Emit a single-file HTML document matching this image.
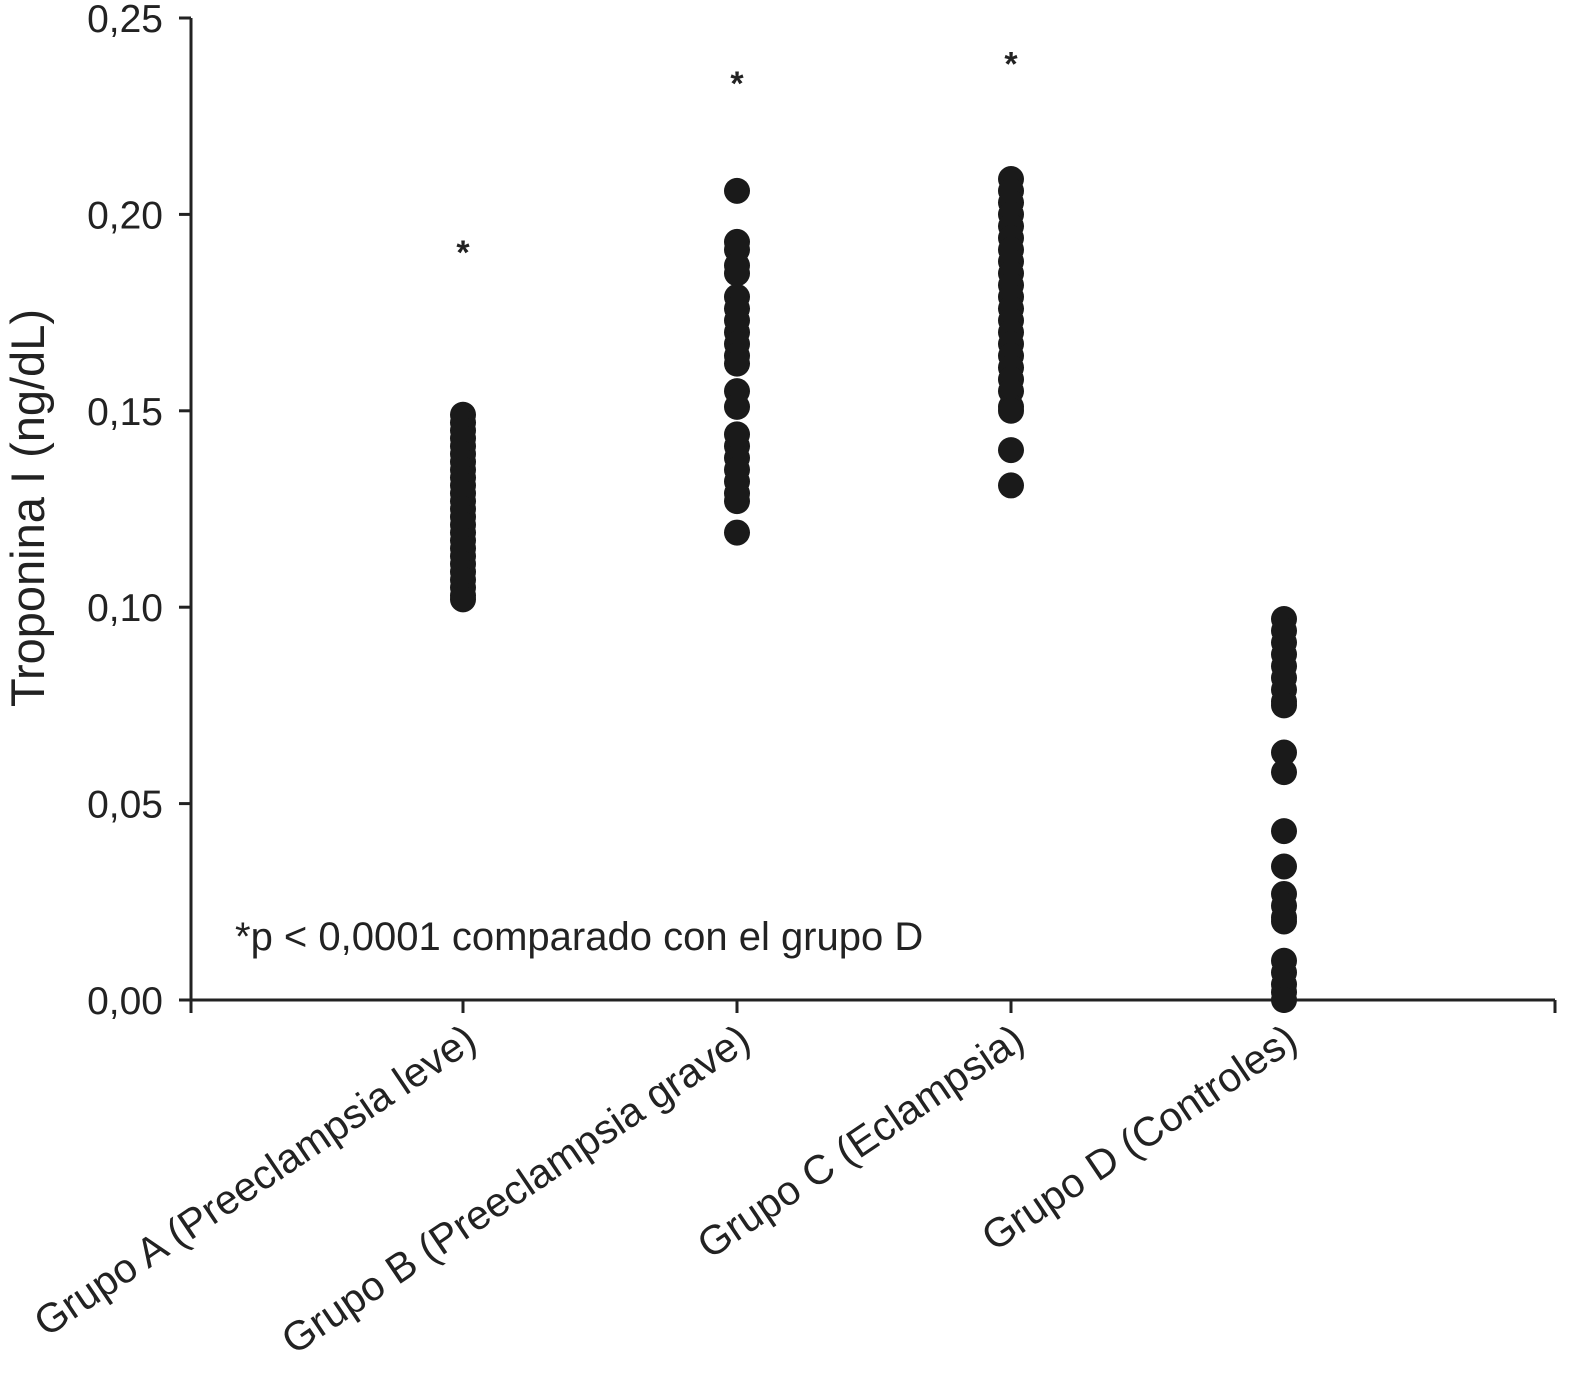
<!DOCTYPE html>
<html><head><meta charset="utf-8"><style>
html,body{margin:0;padding:0;background:#fff;}
svg{display:block;font-family:"Liberation Sans",Arial,sans-serif;}
</style></head><body>
<svg id="chart" width="1586" height="1381" viewBox="0 0 1586 1381">
<g id="axes"></g>
<g id="marks"></g>
<text transform="translate(44,508) rotate(-90)" text-anchor="middle" font-size="47" fill="#222">Troponina I (ng/dL)</text>
<text x="235" y="950" font-size="40" fill="#222">*p &lt; 0,0001 comparado con el grupo D</text>
</svg>
<script>
const categories = ["Grupo A (Preeclampsia leve)","Grupo B (Preeclampsia grave)","Grupo C (Eclampsia)","Grupo D (Controles)"];
const yTicks = [0,0.05,0.10,0.15,0.20,0.25];
const yTickLabels = ["0,00","0,05","0,10","0,15","0,20","0,25"];
const significant = [true,true,true,false];
const starValues = [0.192,0.235,0.240,null];
const groupA = [0.149,0.147,0.145,0.143,0.141,0.139,0.137,0.135,0.133,0.131,0.129,0.127,0.125,0.123,0.121,0.119,0.117,0.115,0.113,0.111,0.109,0.107,0.105,0.103,0.102];
const groupB = [0.206,0.193,0.191,0.187,0.185,0.179,0.176,0.173,0.170,0.167,0.164,0.162,0.155,0.151,0.144,0.141,0.138,0.135,0.132,0.129,0.127,0.119];
const groupC = [0.209,0.206,0.203,0.200,0.197,0.194,0.191,0.188,0.185,0.182,0.179,0.176,0.173,0.170,0.167,0.164,0.161,0.158,0.155,0.151,0.150,0.140,0.131];
const groupD = [0.097,0.094,0.091,0.088,0.085,0.082,0.079,0.076,0.075,0.063,0.058,0.043,0.034,0.027,0.024,0.021,0.020,0.010,0.007,0.004,0.002,0.000];
const series = [groupA,groupB,groupC,groupD];

const NS="http://www.w3.org/2000/svg";
const X0=191,X1=1555,Y0=1000,YTOP=18;
const catX=[463,737,1011,1284];
function yScale(v){return Y0-(v/0.25)*(Y0-YTOP);}
function xScale(i){return catX[i];}
function mk(tag,attrs,parent){const e=document.createElementNS(NS,tag);for(const k in attrs)e.setAttribute(k,attrs[k]);parent.appendChild(e);return e;}
const axes=document.getElementById('axes'),marks=document.getElementById('marks');

let l=mk('line',{x1:X0,y1:YTOP,x2:X0,y2:Y0,stroke:'#222','stroke-width':3},axes);


l=mk('line',{x1:X0,y1:Y0,x2:X1,y2:Y0,stroke:'#222','stroke-width':3},axes);



yTicks.forEach((v,i)=>{
  const y=yScale(v);
  const t=mk('line',{x1:X0-12,y1:y,x2:X0,y2:y,stroke:'#222','stroke-width':3},axes);
  
  
  const tx=mk('text',{x:163,y:y+14,'text-anchor':'end','font-size':39,fill:'#222'},axes);
  tx.textContent=yTickLabels[i];
  
  
});
[X0].concat(catX,[X1]).forEach(x=>{
  const t=mk('line',{x1:x,y1:Y0,x2:x,y2:Y0+13,stroke:'#222','stroke-width':3},axes);
  
  
});
categories.forEach((c,i)=>{
  const x=xScale(i);
  const tx=mk('text',{transform:`translate(${x+16},${Y0+46}) rotate(-34)`,'text-anchor':'end','font-size':41,fill:'#222'},axes);
  tx.textContent=c;
  
  
});
series.forEach((arr,i)=>{
  const x=xScale(i);
  arr.forEach(v=>{
    const c=mk('circle',{cx:x,cy:yScale(v),r:13,fill:'#1a1a1a'},marks);
    
    
  });
  if(significant[i]){
    const s=mk('text',{x:x,y:yScale(starValues[i])+18,'text-anchor':'middle','font-size':34,'font-weight':'bold',fill:'#222'},marks);
    s.textContent='*';
    
    
  }
});
</script>
</body></html>
